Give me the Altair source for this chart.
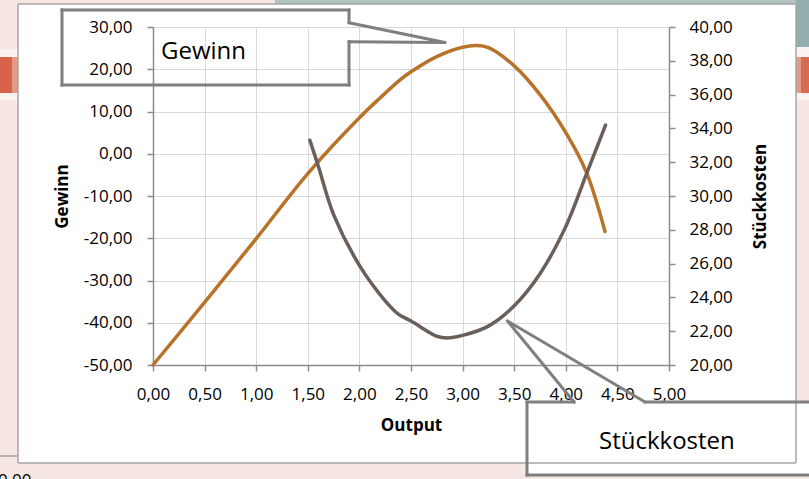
import altair as alt
import pandas as pd

# ---------------- data ----------------
gewinn_x = [0.0, 0.5, 1.0, 1.5, 2.0, 2.2, 2.4, 2.5, 2.75, 3.0, 3.14, 3.25, 3.5, 3.75, 4.0, 4.2, 4.38]
gewinn_y = [-50.0, -35.2, -20.1, -4.7, 8.5, 13.2, 17.6, 19.4, 23.0, 25.2, 25.6, 25.1, 20.8, 14.0, 5.0, -4.4, -18.4]

stk_x = [1.52, 1.6, 1.75, 2.0, 2.25, 2.38, 2.5, 2.75, 2.85, 3.0, 3.25, 3.5, 3.75, 4.0, 4.2, 4.385]
stk_y = [33.3, 31.8, 28.9, 25.9, 23.8, 23.0, 22.6, 21.7, 21.6, 21.75, 22.3, 23.5, 25.4, 28.2, 31.3, 34.2]

x_ticks = [0.0, 0.5, 1.0, 1.5, 2.0, 2.5, 3.0, 3.5, 4.0, 4.5, 5.0]
left_ticks = [-50, -40, -30, -20, -10, 0, 10, 20, 30]
right_ticks = [20, 22, 24, 26, 28, 30, 32, 34, 36, 38, 40]

df_g = pd.DataFrame({"Output": gewinn_x, "Gewinn": gewinn_y})
df_s = pd.DataFrame({"Output": stk_x, "Stückkosten": stk_y})

# ---------------- layout ----------------
PL, PT = 153, 27
W, H = 516, 338
PR = 809 - PL - W
PB = 479 - PT - H

FONT = "Open Sans"
ORANGE = "#B8732B"
GRAY = "#6B6059"
CALLOUT = "#7F7F7F"
FRAME = "#A6A6A6"
PINK = "#F7E7E4"

LABEL_EXPR = "(datum.value < 0 ? '-' : '') + replace(format(abs(datum.value), '.2f'), '.', ',')"

ONE = pd.DataFrame({"k": [0]})


def rect(x1, y1, x2, y2, color):
    return alt.Chart(ONE).mark_rect(color=color, opacity=1).encode(
        x=alt.value(x1 - PL), x2=alt.value(x2 - PL),
        y=alt.value(y1 - PT), y2=alt.value(y2 - PT))


def seg(x1, y1, x2, y2, color=CALLOUT, width=3.0, cap="square"):
    return alt.Chart(ONE).mark_rule(color=color, strokeWidth=width, strokeCap=cap).encode(
        x=alt.value(x1 - PL), x2=alt.value(x2 - PL),
        y=alt.value(y1 - PT), y2=alt.value(y2 - PT))


def label(x, y, txt, size=24, weight="normal", color="#000000", align="left"):
    return alt.Chart(ONE).mark_text(
        align=align, baseline="alphabetic", font=FONT, fontSize=size,
        fontWeight=weight, color=color).encode(
        x=alt.value(x - PL), y=alt.value(y - PT), text=alt.value(txt))


# background pieces outside the chart frame
back = [
    rect(0, 0, 18, 479, PINK),
    rect(796, 0, 809, 479, PINK),
    rect(0, 0, 809, 4, PINK),
    rect(0, 463, 809, 479, PINK),
    rect(0, 49, 18, 100, "#FBF2F0"),
    rect(0, 57, 12, 93, "#D6634A"),
    rect(12, 57, 18, 93, "#E59A88"),
    rect(796, 0, 809, 47, "#93AFAD"),
    rect(275, 0, 796, 4, "#B3C5C2"),
    rect(796, 47, 809, 100, "#FBF2F0"),
    rect(796, 57, 801, 93, "#E59A88"),
    rect(801, 57, 809, 93, "#D86A52"),
    seg(0, 456, 18, 456, color="#A0A0A0", width=1.5, cap="butt"),
    label(-2, 486, "0,00", size=17),
    # white fill of the Stückkosten callout
    rect(527, 402, 809, 475, "#FFFFFF"),
    # chart frame
    seg(18, 4, 796, 4, color=FRAME, width=1.5, cap="butt"),
    seg(18, 463, 796, 463, color=FRAME, width=1.5, cap="butt"),
    seg(18, 4, 18, 463, color=FRAME, width=1.5, cap="butt"),
    seg(796, 4, 796, 463, color=FRAME, width=1.5, cap="butt"),
]

x_enc = alt.X(
    "Output:Q",
    scale=alt.Scale(domain=[0, 5], nice=False, zero=False),
    axis=alt.Axis(
        values=x_ticks, labelExpr=LABEL_EXPR, title="Output",
        grid=True, gridColor="#D9D9D9", gridWidth=1,
        domainColor="#8C8C8C", domainWidth=1.5, tickColor="#8C8C8C", tickSize=6, tickWidth=1.5,
        labelFont=FONT, labelFontSize=17, labelColor="#000000", labelPadding=28,
        labelBaseline="alphabetic", labelFlush=False, labelOverlap=False,
        titleFont=FONT, titleFontSize=17, titleFontWeight="bold", titleColor="#000000",
        titleY=65, titleBaseline="alphabetic",
    ),
)

gew = alt.Chart(df_g).mark_line(
    color=ORANGE, strokeWidth=3.5, interpolate="catmull-rom", strokeCap="round"
).encode(
    x=x_enc,
    y=alt.Y(
        "Gewinn:Q",
        scale=alt.Scale(domain=[-50, 30], nice=False, zero=False),
        axis=alt.Axis(
            orient="left", values=left_ticks, labelExpr=LABEL_EXPR, title="Gewinn",
            grid=True, gridColor="#D9D9D9", gridWidth=1,
            domainColor="#8C8C8C", domainWidth=1.5, tickColor="#8C8C8C", tickSize=6, tickWidth=1.5,
            labelFont=FONT, labelFontSize=17, labelColor="#000000", labelPadding=15,
            labelOverlap=False, labelFlush=False,
            titleFont=FONT, titleFontSize=17, titleFontWeight="bold", titleColor="#000000",
            titleAngle=270, titleX=-86, titleY=H / 2, titleBaseline="alphabetic", titleAlign="center",
        ),
    ),
)

stk = alt.Chart(df_s).mark_line(
    color=GRAY, strokeWidth=3.5, interpolate="catmull-rom", strokeCap="round"
).encode(
    x=alt.X("Output:Q"),
    y=alt.Y(
        "Stückkosten:Q",
        scale=alt.Scale(domain=[20, 40], nice=False, zero=False),
        axis=alt.Axis(
            orient="right", values=right_ticks, labelExpr=LABEL_EXPR, title="Stückkosten",
            grid=False,
            domainColor="#8C8C8C", domainWidth=1.5, tickColor="#8C8C8C", tickSize=6, tickWidth=1.5,
            labelFont=FONT, labelFontSize=17, labelColor="#000000", labelPadding=14,
            labelOverlap=False, labelFlush=False,
            titleFont=FONT, titleFontSize=17, titleFontWeight="bold", titleColor="#000000",
            titleAngle=270, titleX=96, titleY=H / 2, titleBaseline="alphabetic", titleAlign="center",
        ),
    ),
)

callouts = [
    # Gewinn callout
    seg(62, 10, 349, 10),
    seg(349, 10, 349, 22.7),
    seg(349, 22.7, 445, 42.5, cap="round"),
    seg(445, 42.5, 349, 41.7, cap="round"),
    seg(349, 41.7, 349, 85),
    seg(349, 85, 62, 85),
    seg(62, 85, 62, 10),
    label(161, 59, "Gewinn", size=24),
    # Stückkosten callout
    seg(527, 402, 574, 402),
    seg(574, 402, 507.5, 321, cap="round"),
    seg(507.5, 321, 645, 402, cap="round"),
    seg(645, 402, 812, 402),
    seg(527, 402, 527, 475),
    seg(527, 475, 812, 475),
    label(599, 449, "Stückkosten", size=24),
]

chart = alt.layer(*back, gew, stk, *callouts).resolve_scale(
    y="independent"
).properties(
    width=W, height=H,
    autosize=alt.AutoSizeParams(type="none"),
    padding={"left": PL, "top": PT, "right": PR, "bottom": PB},
    background="#FFFFFF",
).configure_view(strokeWidth=0)

chart.save("out.html", embed_options={"renderer": "svg", "actions": False})
